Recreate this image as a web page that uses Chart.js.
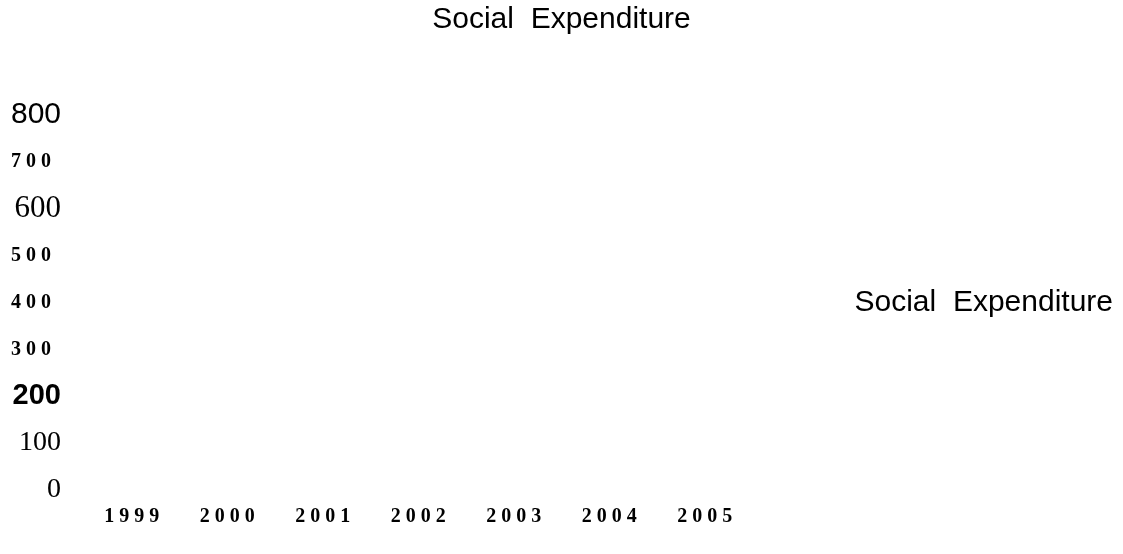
<!DOCTYPE html>
<html>
<head>
<meta charset="utf-8">
<script src="https://cdn.jsdelivr.net/npm/chart.js@4"></script>
<style>
  html, body { margin: 0; padding: 0; background: #fff; }
  #wrap { width: 1123px; height: 554px; }
</style>
</head>
<body>
<div id="wrap"><canvas id="chart"></canvas></div>
<script>
// data - no marks are visible in the plot area
const years = ['1999', '2000', '2001', '2002', '2003', '2004', '2005'];
const socialExpenditure = [null, null, null, null, null, null, null];
const seriesName = 'Social  Expenditure';
const yTicks = [0, 100, 200, 300, 400, 500, 600, 700, 800];

const SANS = '"Liberation Sans", Arial, sans-serif';
const SERIF = '"Liberation Serif", "Times New Roman", serif';

// every y tick label is set in its own face
const tickFont = (v) => {
  switch (v) {
    case 800: return { family: SANS, size: 30, weight: 'normal' };
    case 600: return { family: SERIF, size: 31, weight: 'normal' };
    case 200: return { family: SANS, size: 29, weight: 'bold' };
    case 100:
    case 0: return { family: SERIF, size: 28, weight: 'normal' };
    default: return { family: SERIF, size: 20, weight: 'bold' };
  }
};
const spaced = (s) => String(s).split('').join(' ');

new Chart(document.getElementById('chart'), {
  type: 'bar',
  data: {
    labels: years,
    datasets: [{
      label: seriesName,
      data: socialExpenditure,
      backgroundColor: '#ffffff',
      borderColor: '#ffffff',
      borderWidth: 0,
    }],
  },
  options: {
    responsive: true,
    maintainAspectRatio: false,
    animation: false,
    layout: { padding: { top: 0, right: 0, bottom: 10, left: 0 } },
    plugins: {
      title: {
        display: true,
        text: seriesName,
        color: '#000',
        font: { family: SANS, size: 30, weight: 'normal' },
        padding: { top: 2, bottom: 77 },
      },
      legend: {
        position: 'right',
        fullSize: false,
        maxWidth: 400,
        labels: {
          boxWidth: 0,
          padding: 10,
          color: '#000',
          font: { family: SANS, size: 30 },
        },
      },
      tooltip: { enabled: false },
    },
    scales: {
      x: {
        offset: true,
        grid: { display: false, drawTicks: false },
        border: { display: false },
        ticks: {
          color: '#000',
          padding: 15,
          font: { family: SERIF, size: 20, weight: 'bold' },
          callback: function (v) { return spaced(this.getLabelForValue(v)); },
        },
      },
      y: {
        min: 0,
        max: 800,
        grid: { display: false, drawTicks: false },
        border: { display: false },
        afterFit: (scale) => { scale.width = 84; },
        ticks: {
          stepSize: 100,
          color: '#000',
          padding: 23,
          font: (ctx) => tickFont(ctx.tick ? ctx.tick.value : 0),
          callback: (v) => {
            const f = tickFont(v);
            return f.size === 20 ? spaced(v) + '  ' : String(v);
          },
        },
      },
      y2: {
        position: 'right',
        display: true,
        grid: { display: false, drawTicks: false },
        border: { display: false },
        ticks: { display: false },
        afterFit: (scale) => { scale.width = 77; },
      },
    },
  },
});
</script>
</body>
</html>
